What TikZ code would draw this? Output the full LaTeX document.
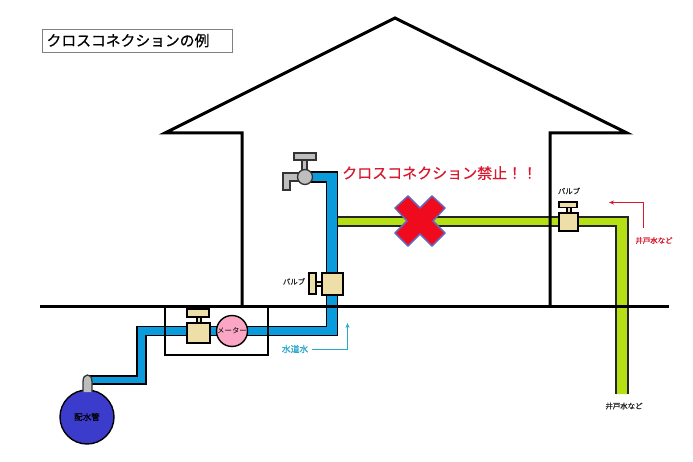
\documentclass[tikz,border=0pt]{standalone}
\usepackage{fontspec}
\usepackage{xcolor}
\usepackage{tikz}
\usetikzlibrary{arrows.meta}
\newfontfamily\cjk{Noto Sans CJK JP}
\newfontfamily\cjkb[FakeBold=0.6]{Noto Sans CJK JP}
\definecolor{waterblue}{HTML}{0A9BDC}
\definecolor{wellgreen}{HTML}{B4E014}
\definecolor{valvebody}{HTML}{EEDFA8}
\definecolor{tapgray}{HTML}{BEBEBE}
\definecolor{meterpink}{HTML}{FBA6C4}
\definecolor{mainblue}{HTML}{3C3CCC}
\definecolor{crossred}{HTML}{F00A1E}
\definecolor{warnred}{HTML}{D8182E}
\definecolor{tapcyan}{HTML}{2AA8C8}

\begin{document}
\begin{tikzpicture}[
  x=1pt, y=-1pt,
  struct/.style={draw=black, line width=3pt},
  pipeblue/.style={draw=black, line width=1.5pt, fill=waterblue},
  pipegreen/.style={draw=black!85, line width=1.4pt, fill=wellgreen},
  valve/.style={draw=black, line width=1.4pt, fill=valvebody},
  tap/.style={draw=black!80, line width=1.3pt, fill=tapgray},
  lbl/.style={font=\cjkb\fontsize{7.4}{8}\selectfont, inner sep=0pt, text=black!85},
  redlbl/.style={lbl, text=warnred},
  warn/.style={font=\cjkb\fontsize{15}{17}\selectfont, inner sep=0pt, text=warnred},
  arrcyan/.style={-{Stealth[length=5pt,width=4pt]}, draw=tapcyan, line width=1.1pt},
  arrred/.style={-{Stealth[length=5pt,width=4pt]}, draw=warnred, line width=1.1pt}
]
\useasboundingbox (0,0) rectangle (693,462);

% Title
\node[draw=black!50, line width=0.9pt, minimum width=190pt, minimum height=23pt,
  inner sep=0pt, font=\cjkb\fontsize{14.8}{17}\selectfont] (title) at (137,40.5) {\hspace*{-18pt}クロスコネクションの例};

% Well water pipe
\draw[pipegreen] (616,394) -- (616,226) -- (337,226) -- (337,217) -- (628,217) -- (628,394);

% House
\draw[struct, line join=miter] (242,306) -- (242,133) -- (165,133) -- (395,18) -- (627,133) -- (550,133) -- (550,306);

% Tap water pipe
\draw[pipeblue] (90,376) -- (137,376) -- (137,326.5) -- (326.5,326.5) -- (326.5,182) -- (300,182)
  -- (300,172) -- (337.5,172) -- (337.5,335.5) -- (146,335.5) -- (146,384) -- (90,384) -- cycle;

% Ground and meter box
\draw[struct] (40,306) -- (669,306);
\draw[draw=black, line width=1.3pt] (165,306) -- (165,355) -- (268,355) -- (268,306);

% Water main
\node[draw=black, line width=1.4pt, fill=mainblue, circle, minimum size=54pt, inner sep=0pt,
  font=\cjkb\fontsize{8.5}{10}\selectfont] (main) at (87,417) {配水管};
\draw[tap, fill=tapgray] (83,392) -- (83,382) .. controls (83,377) and (85,375) .. (87.5,375)
  .. controls (90,375) and (92,377) .. (92,382) -- (92,392);

% Meter and its valve
\draw[valve] (197,317) rectangle (201,323);
\draw[valve] (187,309) rectangle (209,317);
\node[valve, minimum width=23pt, minimum height=20pt, inner sep=0pt] (valvea) at (198.5,333) {};
\node[draw=black, line width=1.4pt, fill=meterpink, circle, minimum size=31pt, inner sep=0pt,
  font=\cjk\fontsize{7.4}{8}\selectfont] (meter) at (232,331) {メーター};

% Valve on the tap water pipe
\draw[valve] (316,282) rectangle (322,286);
\draw[valve] (309,273) rectangle (316,294);
\node[valve, minimum width=21pt, minimum height=22pt, inner sep=0pt] (valveb) at (332.5,284) {};
\node[lbl] (valveblbl) at (294,281.5) {バルブ};

% Faucet
\draw[tap] (283,190) -- (283,173) -- (300,173) -- (300,181) -- (290,181) -- (290,190) -- cycle;
\draw[tap] (302,160) rectangle (307,170);
\draw[tap] (294,153) rectangle (316,160);
\node[tap, circle, minimum size=15pt, inner sep=0pt] (faucet) at (305,177) {};

% Valve on the well water pipe
\draw[valve] (567,207) rectangle (571,213);
\draw[valve] (559,202) rectangle (577,207.5);
\node[valve, minimum width=19pt, minimum height=18pt, inner sep=0pt] (valvec) at (568.5,222) {};
\node[lbl] (valveclbl) at (569,191) {バルブ};

% Forbidden mark
\draw[draw=black!45!blue!60, line width=1.5pt, fill=crossred, line join=round]
  (408,196) -- (420,208) -- (432,196) -- (445,208) -- (433,221) -- (445,233) -- (432,246)
  -- (420,234) -- (408,246) -- (395,233) -- (407,221) -- (395,208) -- cycle;
\node[warn, anchor=west] (warnlbl) at (342,173) {クロスコネクション禁止！！};

% Labels and arrows
\node[font=\cjkb\fontsize{8.8}{10}\selectfont, inner sep=0pt, text=tapcyan] (tapwater) at (295,349) {水道水};
\coordinate (tapstart) at (312,349.5);
\coordinate (taptip) at (347.5,323);
\draw[arrcyan] (tapstart) -| (taptip);
\node[redlbl] (wellred) at (654,240.5) {井戸水など};
\coordinate (wellstart) at (643.5,228);
\coordinate (welltip) at (609,202.5);
\draw[arrred] (wellstart) |- (welltip);
\node[lbl] (wellblack) at (624,406) {井戸水など};

\end{tikzpicture}
\end{document}
